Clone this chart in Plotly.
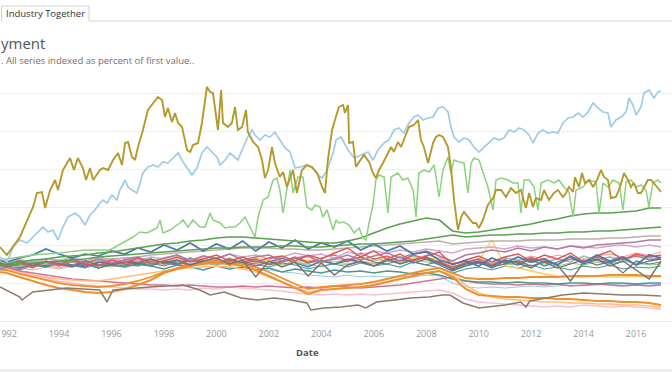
import plotly.graph_objects as go

# ---------------- DATA (index, percent of first value) ----------------
X_TICKS = [1992, 1994, 1996, 1998, 2000, 2002, 2004, 2006, 2008, 2010, 2012, 2014, 2016]
X_TICK_LABELS = [str(y) for y in X_TICKS]

GOLD_DATES = [1991.75, 1992.01, 1992.51, 1993.01, 1993.16, 1993.35, 1993.47, 1993.66, 1993.85, 1993.96,
              1994.15, 1994.42, 1994.57, 1994.72, 1994.91, 1995.03, 1995.18, 1995.30, 1995.56, 1995.68,
              1995.87, 1996.06, 1996.25, 1996.40, 1996.52, 1996.63, 1996.78, 1996.90, 1997.01, 1997.20,
              1997.39, 1997.58, 1997.77, 1997.93, 1998.04, 1998.15, 1998.31, 1998.42, 1998.54, 1998.69,
              1998.88, 1999.00, 1999.11, 1999.30, 1999.45, 1999.57, 1999.64, 1999.76, 1999.87, 2000.06,
              2000.18, 2000.25, 2000.44, 2000.59, 2000.71, 2000.82, 2000.98, 2001.13, 2001.20, 2001.40,
              2001.59, 2001.74, 2001.85, 2001.97, 2002.12, 2002.23, 2002.42, 2002.54, 2002.69, 2002.92,
              2003.07, 2003.26, 2003.45, 2003.64, 2003.84, 2004.03, 2004.14, 2004.25, 2004.41, 2004.52,
              2004.67, 2004.83, 2004.90, 2005.02, 2005.06, 2005.21, 2005.32, 2005.44, 2005.63, 2005.82,
              2005.97, 2006.08, 2006.20, 2006.35, 2006.47, 2006.66, 2006.77, 2006.92, 2007.04, 2007.23,
              2007.34, 2007.53, 2007.69, 2007.80, 2007.91, 2008.07, 2008.26, 2008.37, 2008.49, 2008.64,
              2008.83, 2008.94, 2009.06, 2009.21, 2009.33, 2009.44, 2009.59, 2009.78, 2009.90, 2010.01,
              2010.16, 2010.35, 2010.55, 2010.66, 2010.85, 2011.04, 2011.23, 2011.42, 2011.61, 2011.80,
              2011.92, 2012.07, 2012.18, 2012.38, 2012.49, 2012.68, 2012.87, 2013.02, 2013.21, 2013.33,
              2013.44, 2013.60, 2013.67, 2013.82, 2013.94, 2014.05, 2014.21, 2014.36, 2014.51, 2014.66,
              2014.78, 2014.93, 2015.04, 2015.23, 2015.39, 2015.54, 2015.69, 2015.81, 2015.92, 2016.07,
              2016.19, 2016.30, 2016.45, 2016.57, 2016.68, 2016.80, 2016.95]
GOLD_VALUES = [118, 110, 128, 158, 172, 173, 157, 175, 185, 175,
               195, 207, 195, 207, 197, 185, 197, 185, 195, 197,
               195, 205, 212, 200, 222, 223, 208, 205, 218, 235,
               255, 262, 268, 265, 248, 257, 243, 252, 242, 238,
               215, 213, 220, 222, 242, 265, 278, 273, 272, 235,
               275, 242, 238, 242, 258, 235, 238, 255, 233, 223,
               218, 205, 187, 195, 218, 202, 188, 193, 178, 195,
               172, 195, 200, 198, 192, 178, 172, 205, 235, 245,
               258, 260, 252, 260, 222, 223, 198, 203, 210, 203,
               192, 187, 195, 202, 208, 218, 213, 223, 218, 232,
               238, 240, 245, 225, 218, 202, 222, 228, 230, 228,
               218, 198, 165, 135, 148, 153, 148, 142, 142, 137,
               145, 160, 167, 175, 175, 168, 177, 172, 175, 157,
               172, 158, 167, 165, 175, 165, 172, 175, 168, 172,
               178, 173, 188, 178, 192, 182, 185, 178, 185, 195,
               188, 185, 167, 168, 178, 192, 185, 178, 182, 172,
               172, 178, 185, 185, 182, 178, 173]

LBLUE_DATES = [1991.75, 1992.02, 1992.25, 1992.51, 1992.78, 1993.01, 1993.20, 1993.39, 1993.58, 1993.77,
               1993.96, 1994.15, 1994.34, 1994.61, 1994.80, 1994.99, 1995.18, 1995.37, 1995.56, 1995.68,
               1995.83, 1996.02, 1996.21, 1996.32, 1996.52, 1996.63, 1996.78, 1996.97, 1997.09, 1997.20,
               1997.39, 1997.58, 1997.77, 1997.96, 1998.15, 1998.35, 1998.54, 1998.73, 1998.92, 1999.07,
               1999.26, 1999.45, 1999.64, 1999.83, 2000.02, 2000.14, 2000.33, 2000.52, 2000.71, 2000.82,
               2001.01, 2001.20, 2001.36, 2001.47, 2001.66, 2001.85, 2002.04, 2002.23, 2002.42, 2002.62,
               2002.81, 2003.00, 2003.19, 2003.45, 2003.68, 2003.87, 2004.03, 2004.22, 2004.45, 2004.56,
               2004.75, 2005.02, 2005.25, 2005.51, 2005.78, 2005.97, 2006.16, 2006.39, 2006.58, 2006.77,
               2006.96, 2007.15, 2007.34, 2007.53, 2007.69, 2007.88, 2008.07, 2008.26, 2008.45, 2008.64,
               2008.83, 2008.94, 2009.06, 2009.25, 2009.44, 2009.63, 2009.82, 2010.01, 2010.20, 2010.39,
               2010.58, 2010.77, 2010.96, 2011.16, 2011.35, 2011.54, 2011.73, 2011.92, 2012.07, 2012.26,
               2012.45, 2012.64, 2012.83, 2013.02, 2013.21, 2013.41, 2013.60, 2013.79, 2013.98, 2014.17,
               2014.36, 2014.55, 2014.74, 2014.93, 2015.04, 2015.23, 2015.43, 2015.62, 2015.73, 2015.88,
               2016.00, 2016.19, 2016.30, 2016.49, 2016.68, 2016.83, 2016.95]
LBLUE_VALUES = [108, 103, 118, 125, 122, 128, 133, 138, 133, 135,
                125, 138, 148, 152, 148, 140, 150, 155, 162, 165,
                162, 170, 165, 175, 185, 178, 175, 172, 182, 192,
                198, 200, 198, 203, 202, 207, 212, 203, 195, 190,
                197, 212, 218, 213, 208, 200, 205, 212, 208, 205,
                217, 228, 235, 230, 225, 230, 228, 233, 225, 217,
                213, 197, 198, 200, 197, 190, 187, 195, 212, 225,
                228, 215, 207, 210, 213, 205, 215, 222, 225, 235,
                237, 232, 242, 248, 250, 245, 247, 248, 257, 258,
                253, 238, 228, 223, 227, 225, 218, 213, 218, 223,
                227, 225, 227, 235, 233, 237, 235, 230, 222, 232,
                235, 232, 233, 232, 242, 247, 248, 252, 248, 253,
                262, 257, 253, 252, 238, 245, 248, 253, 267, 260,
                250, 258, 272, 275, 267, 273, 274]

LGREEN_DATES = [1991.75, 1993.00, 1994.00, 1995.00, 1995.94, 1996.82, 1997.09, 1997.35, 1997.74, 1997.85,
                1997.96, 1998.23, 1998.61, 1998.73, 1998.92, 1999.11, 1999.37, 1999.57, 1999.76, 1999.87,
                2000.14, 2000.33, 2000.52, 2000.71, 2000.90, 2001.09, 2001.28, 2001.47, 2001.59, 2001.78,
                2001.97, 2002.16, 2002.31, 2002.42, 2002.54, 2002.69, 2002.81, 2002.92, 2003.11, 2003.30,
                2003.45, 2003.64, 2003.76, 2003.95, 2004.06, 2004.22, 2004.33, 2004.45, 2004.56, 2004.67,
                2004.86, 2005.06, 2005.25, 2005.44, 2005.59, 2005.70, 2005.82, 2005.97, 2006.08, 2006.20,
                2006.39, 2006.54, 2006.66, 2006.92, 2007.11, 2007.30, 2007.50, 2007.61, 2007.72, 2007.91,
                2008.11, 2008.30, 2008.49, 2008.64, 2008.83, 2008.94, 2009.06, 2009.25, 2009.44, 2009.59,
                2009.71, 2009.82, 2010.01, 2010.16, 2010.35, 2010.55, 2010.66, 2010.85, 2011.12, 2011.31,
                2011.50, 2011.61, 2011.73, 2011.92, 2012.11, 2012.26, 2012.38, 2012.64, 2012.87, 2013.06,
                2013.25, 2013.44, 2013.60, 2013.71, 2013.98, 2014.21, 2014.47, 2014.59, 2014.74, 2014.93,
                2015.12, 2015.35, 2015.50, 2015.62, 2015.81, 2016.00, 2016.19, 2016.38, 2016.49, 2016.64,
                2016.83, 2016.95]
LGREEN_VALUES = [105, 110, 112, 115, 115, 128, 133, 132, 137, 145,
                 132, 135, 142, 145, 138, 145, 138, 138, 152, 145,
                 142, 137, 138, 138, 142, 148, 138, 128, 148, 165,
                 168, 185, 187, 175, 152, 178, 195, 172, 188, 188,
                 158, 155, 160, 158, 148, 155, 145, 135, 145, 142,
                 143, 140, 132, 137, 127, 125, 142, 160, 185, 190,
                 188, 152, 188, 192, 185, 187, 175, 148, 192, 195,
                 193, 200, 168, 195, 208, 192, 205, 203, 202, 172,
                 202, 207, 205, 192, 178, 155, 185, 187, 185, 182,
                 182, 152, 185, 185, 178, 155, 182, 185, 182, 185,
                 178, 173, 148, 175, 178, 185, 183, 152, 182, 178,
                 185, 182, 155, 183, 185, 178, 180, 175, 158, 182,
                 185, 182]

BROWN_DATES = [1991.75, 1992.51, 1992.59, 1993.00, 1994.30, 1995.55, 1995.83, 1996.06, 1997.47, 1998.73,
               1999.37, 1999.76, 2000.30, 2000.94, 2001.55, 2002.20, 2002.85, 2003.45, 2003.60, 2004.10,
               2004.75, 2005.40, 2005.70, 2006.10, 2006.80, 2007.40, 2008.10, 2008.60, 2008.90, 2009.40,
               2010.00, 2010.40, 2011.00, 2011.60, 2011.80, 2011.95, 2012.70, 2013.20, 2014.00, 2014.80,
               2015.50, 2016.20, 2016.95]
BROWN_VALUES = [78, 68, 65, 73, 77, 75, 63, 75, 78, 80,
                75, 70, 73, 67, 65, 67, 65, 62, 55, 57,
                58, 60, 57, 63, 65, 67, 68, 70, 70, 62,
                57, 58, 60, 63, 58, 64, 68, 70, 72, 71,
                70, 70, 69]

# half-year sampling dates shared by the remaining industries
BUNDLE_DATES = [1991.75] + [1992 + 0.5 * i for i in range(50)] + [2016.95]

DGREEN = [100, 101, 103, 105, 106, 108, 109, 110, 112, 113,
          115, 117, 119, 121, 122, 124, 125, 127, 128, 128,
          127, 126, 125, 124, 123, 122, 122, 124, 127, 132,
          137, 141, 144, 147, 145, 134, 132, 133, 135, 137,
          139, 141, 144, 146, 149, 151, 152, 152, 153, 154,
          157, 157]
GREEN2 = [100, 99, 101, 102, 103, 104, 105, 106, 108, 109,
          110, 111, 112, 113, 114, 115, 116, 117, 117, 118,
          118, 118, 119, 119, 118, 118, 119, 120, 121, 121,
          122, 123, 124, 126, 128, 130, 128, 129, 130, 130,
          131, 131, 132, 132, 133, 133, 134, 134, 135, 136,
          137, 138]
LGRAY = [98, 97, 99, 100, 101, 102, 103, 104, 105, 106,
         107, 108, 110, 111, 112, 113, 114, 115, 116, 117,
         117, 117, 116, 116, 115, 115, 116, 117, 118, 119,
         120, 121, 122, 123, 124, 121, 122, 123, 124, 124,
         124, 125, 125, 125, 126, 126, 126, 127, 127, 128,
         129, 129]
PURPLE = [96, 98, 95, 100, 103, 99, 104, 101, 106, 102,
          105, 108, 103, 107, 110, 104, 109, 106, 111, 105,
          108, 110, 104, 107, 109, 103, 106, 110, 105, 109,
          112, 107, 111, 114, 109, 104, 110, 112, 115, 113,
          117, 114, 118, 116, 119, 117, 120, 121, 122, 123,
          125, 125]
LPURPLE = [103, 101, 104, 102, 106, 104, 107, 103, 108, 105,
           107, 104, 108, 106, 110, 105, 109, 107, 111, 108,
           110, 106, 108, 112, 109, 111, 107, 113, 110, 114,
           112, 115, 113, 116, 114, 112, 116, 117, 118, 116,
           119, 117, 118, 116, 119, 118, 117, 119, 120, 118,
           120, 118]
BLUE = [105, 103, 107, 110, 116, 111, 107, 111, 109, 114,
        111, 117, 113, 120, 115, 122, 114, 121, 116, 124,
        114, 123, 117, 125, 116, 122, 118, 124, 115, 121,
        114, 119, 111, 113, 105, 101, 104, 99, 107, 102,
        108, 103, 106, 100, 109, 102, 110, 104, 108, 100,
        110, 107]
BLUE3 = [98, 100, 97, 102, 99, 104, 100, 98, 103, 101,
         105, 102, 99, 104, 101, 106, 103, 100, 105, 102,
         99, 103, 107, 102, 98, 104, 101, 106, 103, 99,
         104, 108, 102, 106, 100, 94, 99, 103, 97, 104,
         100, 106, 99, 103, 108, 101, 105, 102, 107, 100,
         104, 106]
RED = [100, 98, 102, 97, 104, 100, 106, 101, 99, 105,
       102, 107, 101, 104, 108, 103, 106, 110, 104, 108,
       103, 107, 109, 104, 110, 106, 112, 117, 108, 114,
       106, 111, 104, 109, 113, 100, 105, 109, 103, 108,
       111, 104, 110, 106, 112, 103, 109, 114, 105, 111,
       108, 110]
RED2 = [103, 101, 105, 100, 98, 103, 99, 102, 97, 101,
        99, 103, 106, 101, 104, 99, 102, 105, 100, 103,
        106, 101, 104, 108, 103, 107, 110, 104, 112, 106,
        109, 104, 110, 106, 103, 98, 102, 106, 100, 105,
        102, 107, 103, 101, 106, 104, 108, 103, 106, 109,
        105, 107]
SALMON = [99, 101, 98, 102, 100, 97, 101, 99, 103, 100,
          98, 102, 100, 104, 101, 99, 103, 101, 105, 102,
          100, 104, 102, 106, 108, 103, 107, 105, 102, 106,
          104, 108, 106, 110, 107, 101, 104, 106, 103, 107,
          105, 109, 106, 110, 107, 104, 109, 111, 108, 112,
          110, 113]
GRAY = [102, 100, 104, 99, 103, 101, 98, 104, 100, 100,
        103, 101, 106, 102, 105, 100, 104, 107, 101, 105,
        88, 104, 98, 103, 89, 102, 90, 100, 104, 99,
        106, 101, 105, 108, 102, 96, 101, 104, 99, 105,
        102, 97, 104, 100, 84, 103, 106, 99, 104, 95,
        86, 104]
GRAY2 = [100, 102, 99, 101, 104, 100, 103, 99, 102, 105,
         101, 99, 104, 102, 100, 105, 103, 101, 106, 102,
         104, 100, 103, 107, 102, 105, 101, 104, 108, 103,
         101, 105, 103, 100, 104, 95, 99, 102, 98, 101,
         104, 99, 103, 97, 101, 105, 100, 103, 92, 104,
         101, 103]
TEAL = [99, 101, 97, 100, 98, 102, 99, 101, 97, 100,
        98, 101, 99, 96, 100, 98, 95, 99, 96, 98,
        95, 97, 93, 96, 94, 92, 95, 93, 94, 92,
        94, 93, 91, 92, 90, 86, 84, 83, 83, 82,
        83, 82, 82, 81, 82, 82, 81, 82, 82, 81,
        82, 82]
TEAL2 = [101, 103, 99, 104, 100, 102, 105, 101, 99, 103,
         100, 104, 102, 99, 103, 107, 102, 104, 100, 103,
         101, 98, 102, 100, 96, 99, 101, 98, 102, 99,
         101, 98, 103, 100, 97, 92, 96, 98, 95, 99,
         97, 100, 96, 98, 95, 99, 97, 100, 96, 98,
         97, 99]
LTEAL = [97, 99, 96, 101, 98, 102, 100, 97, 103, 99,
         101, 104, 100, 103, 106, 101, 105, 102, 107, 103,
         105, 101, 106, 103, 99, 104, 107, 103, 108, 104,
         107, 103, 109, 105, 101, 97, 103, 106, 101, 107,
         104, 108, 102, 106, 103, 109, 105, 108, 103, 110,
         106, 108]
LBROWN = [95, 94, 97, 95, 98, 96, 99, 97, 100, 98,
          100, 99, 101, 100, 102, 101, 103, 102, 104, 103,
          102, 104, 101, 103, 100, 102, 104, 101, 103, 102,
          104, 103, 105, 106, 104, 99, 101, 103, 102, 104,
          103, 105, 104, 106, 105, 107, 106, 108, 107, 109,
          108, 109]
LGREEN2 = [99, 97, 100, 98, 101, 103, 100, 102, 104, 101,
           103, 106, 102, 105, 103, 107, 104, 102, 106, 103,
           101, 104, 100, 103, 101, 98, 102, 100, 103, 101,
           104, 102, 105, 103, 101, 97, 100, 102, 99, 101,
           100, 103, 101, 99, 102, 100, 103, 101, 104, 102,
           100, 101]
YELLOW = [101, 99, 103, 100, 102, 99, 104, 101, 103, 100,
          104, 102, 105, 103, 106, 104, 107, 103, 106, 104,
          107, 104, 106, 103, 105, 102, 106, 104, 107, 105,
          108, 104, 107, 105, 108, 103, 101, 104, 125, 99,
          97, 94, 91, 89, 88, 88, 89, 88, 88, 89,
          88, 88]
LBLUE2 = [104, 102, 106, 103, 107, 105, 108, 104, 107, 106,
          104, 107, 103, 106, 104, 101, 103, 100, 102, 99,
          97, 95, 93, 92, 90, 89, 88, 90, 88, 89,
          88, 89, 88, 90, 89, 82, 78, 77, 78, 77,
          78, 79, 78, 79, 80, 79, 80, 81, 80, 81,
          80, 81]
PINK = [100, 98, 94, 92, 90, 88, 86, 85, 84, 83,
        82, 81, 80, 80, 79, 80, 79, 78, 78, 79,
        78, 79, 78, 77, 78, 77, 79, 78, 77, 78,
        79, 80, 82, 84, 86, 88, 84, 82, 81, 81,
        80, 81, 80, 81, 79, 80, 81, 80, 79, 80,
        79, 80]
LPINK = [100, 97, 93, 90, 87, 84, 82, 80, 79, 78,
         77, 76, 76, 75, 76, 75, 77, 76, 78, 77,
         76, 75, 74, 72, 71, 70, 71, 70, 71, 70,
         71, 72, 73, 74, 75, 72, 66, 63, 62, 61,
         60, 59, 58, 59, 58, 60, 59, 58, 59, 58,
         57, 56]
ORANGE_A = [93, 92, 88, 84, 80, 77, 75, 73, 72, 73,
            76, 80, 85, 92, 96, 99, 101, 102, 101, 99,
            95, 89, 83, 77, 71, 75, 76, 77, 78, 80,
            83, 86, 89, 92, 94, 88, 76, 70, 69, 68,
            68, 67, 67, 66, 66, 65, 64, 64, 63, 63,
            62, 60]
ORANGE_B = [96, 95, 91, 88, 85, 82, 80, 79, 78, 79,
            81, 84, 88, 93, 97, 100, 103, 104, 103, 101,
            98, 93, 87, 81, 76, 78, 79, 80, 81, 83,
            86, 89, 92, 95, 97, 92, 87, 86, 86, 87,
            87, 88, 88, 88, 89, 89, 89, 90, 90, 90,
            89, 89]
LORANGE = [97, 95, 92, 90, 88, 86, 85, 84, 84, 86,
           88, 90, 92, 94, 96, 97, 98, 99, 98, 96,
           93, 88, 83, 78, 73, 75, 76, 77, 78, 80,
           83, 86, 89, 92, 94, 90, 80, 72, 68, 66,
           65, 64, 63, 63, 62, 62, 61, 61, 60, 60,
           59, 58]

# ---------------- FIGURE ----------------
W, H = 672, 372
PLOT_TOP, PLOT_BOTTOM = 75, 321

bundle = [
    (LBROWN, "#D7B5A6", 1.2), (LGREEN2, "#8CD17D", 1.2), (TEAL2, "#499894", 1.2),
    (SALMON, "#FF9D9A", 1.2), (LTEAL, "#86BCB6", 1.2), (YELLOW, "#F1CE63", 1.3),
    (GRAY2, "#79706E", 1.2), (RED2, "#E15759", 1.2), (BLUE3, "#4E79A7", 1.3),
    (LBLUE2, "#A0CBE8", 1.2), (LPINK, "#FABFD2", 1.4), (PINK, "#D37295", 1.4),
    (TEAL, "#499894", 1.5), (LORANGE, "#FFBE7D", 1.6), (ORANGE_B, "#F28E2B", 1.8),
    (ORANGE_A, "#F28E2B", 2.0), (LGRAY, "#BAB0AC", 1.4), (LPURPLE, "#D4A6C8", 1.4),
    (PURPLE, "#B07AA1", 1.4), (GRAY, "#79706E", 1.4), (RED, "#E15759", 1.4),
    (BLUE, "#4E79A7", 1.7), (GREEN2, "#59A14F", 1.5), (DGREEN, "#59A14F", 1.7),
]

fig = go.Figure()
for vals, col, w in bundle:
    if len(vals) != len(BUNDLE_DATES):
        raise ValueError(f"length mismatch {len(vals)} vs {len(BUNDLE_DATES)} ({col})")
    fig.add_trace(go.Scatter(x=BUNDLE_DATES, y=vals, mode="lines",
                             line=dict(color=col, width=w), hoverinfo="skip"))

for xs, ys, col, w in [
    (BROWN_DATES, BROWN_VALUES, "#8E7A6B", 1.5),
    (LGREEN_DATES, LGREEN_VALUES, "#8CD17D", 1.5),
    (LBLUE_DATES, LBLUE_VALUES, "#A0CBE8", 1.7),
    (GOLD_DATES, GOLD_VALUES, "#B6992D", 1.9),
]:
    if len(xs) != len(ys):
        raise ValueError(f"length mismatch {len(xs)} vs {len(ys)} ({col})")
    fig.add_trace(go.Scatter(x=xs, y=ys, mode="lines",
                             line=dict(color=col, width=w), hoverinfo="skip"))

px_per_year = 26.23
x0 = 1991.75
x1 = x0 + W / px_per_year

font_main = "Open Sans, Lato, sans-serif"

fig.update_layout(
    width=W, height=H, autosize=False,
    margin=dict(l=0, r=0, t=0, b=0, pad=0, autoexpand=False),
    paper_bgcolor="white", plot_bgcolor="white",
    showlegend=False,
    font=dict(family=font_main, color="#666"),
    xaxis=dict(
        domain=[0, 1], range=[x0, x1],
        tickvals=X_TICKS, ticktext=X_TICK_LABELS,
        tickfont=dict(size=9, color="#9a9a9a", family=font_main),
        ticks="outside", ticklen=4, tickcolor="rgba(0,0,0,0)",
        ticklabeloverflow="allow",
        showgrid=False, zeroline=False,
        showline=True, linecolor="#ececec", linewidth=1,
        automargin=False,
    ),
    yaxis=dict(
        domain=[(H - PLOT_BOTTOM) / H, (H - PLOT_TOP) / H],
        range=[44, 290],
        tickvals=[44, 82, 120, 158, 196, 234, 272],
        showticklabels=False, ticks="",
        showgrid=True, gridcolor="#efefef", gridwidth=1,
        zeroline=False, showline=False, automargin=False,
    ),
)

def px(x):
    return x / W

def py(y):
    return (H - y) / H

annotations = [
    dict(text="yment", x=px(0), y=py(43), xanchor="left", yanchor="middle", xshift=-1,
         font=dict(size=15, color="#555555", family=font_main)),
    dict(text=". All series indexed as percent of first value..", x=px(0), y=py(61),
         xanchor="left", yanchor="middle", xshift=-1,
         font=dict(size=9.5, color="#6f6f6f", family=font_main)),
    dict(text="Industry Together", x=px(45), y=py(14), xanchor="center", yanchor="middle",
         font=dict(size=9.5, color="#333333", family=font_main)),
    dict(text="<b>Date</b>", x=px(307.5), y=py(352.5), xanchor="center", yanchor="middle",
         font=dict(size=9.5, color="#555555", family=font_main)),
]
for a in annotations:
    a.update(xref="paper", yref="paper", showarrow=False)
fig.update_layout(annotations=annotations)

line_col = "#d3d3d3"
shapes = [
    dict(type="line", x0=px(1.5), x1=px(1.5), y0=py(6), y1=py(21)),
    dict(type="line", x0=px(1.5), x1=px(89), y0=py(6), y1=py(6)),
    dict(type="line", x0=px(89), x1=px(89), y0=py(6), y1=py(21)),
    dict(type="line", x0=px(89), x1=px(W), y0=py(21), y1=py(21)),
]
for s in shapes:
    s.update(xref="paper", yref="paper", line=dict(color=line_col, width=1), layer="above")
shapes.append(dict(type="rect", xref="paper", yref="paper", x0=0, x1=1, y0=0, y1=py(369),
                   fillcolor="#efefef", line=dict(width=0), layer="below"))
fig.update_layout(shapes=shapes)

fig.write_html("out.html",
               config={"responsive": False, "displayModeBar": False, "staticPlot": True},
               post_script="document.body.style.margin='0';document.body.style.overflow='hidden';")
